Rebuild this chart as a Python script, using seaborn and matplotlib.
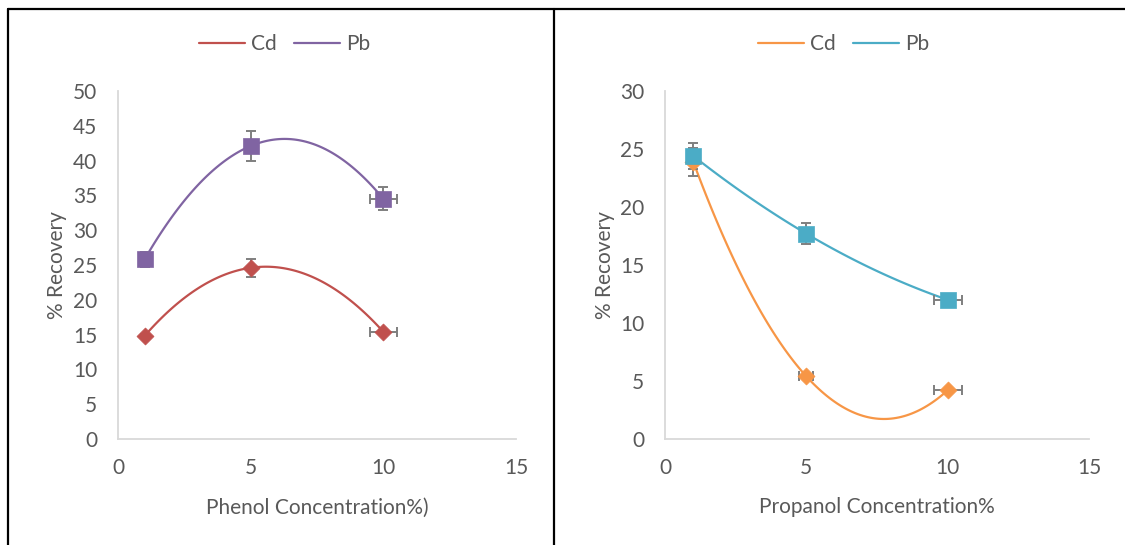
import numpy as np
import pandas as pd
import matplotlib
matplotlib.use("Agg")
import matplotlib.pyplot as plt
from matplotlib.lines import Line2D
import seaborn as sns

# ---------------- data ----------------
conc = [1, 5, 10]

# Phenol panel
cd_phenol = [14.8, 24.6, 15.4]
cd_phenol_yerr = [0.3, 1.3, 0.3]
cd_phenol_xerr = [0.0, 0.0, 0.5]
pb_phenol = [25.8, 42.1, 34.5]
pb_phenol_yerr = [1.1, 2.1, 1.65]
pb_phenol_xerr = [0.0, 0.0, 0.5]

# Propanol panel
cd_propanol = [23.9, 5.4, 4.2]
cd_propanol_yerr = [1.2, 0.0, 0.0]
cd_propanol_xerr = [0.0, 0.25, 0.5]
pb_propanol = [24.4, 17.7, 12.0]
pb_propanol_yerr = [1.1, 0.9, 0.0]
pb_propanol_xerr = [0.0, 0.0, 0.5]

series_names = ["Cd", "Pb"]
x_ticks = [0, 5, 10, 15]
y_ticks_phenol = list(range(0, 51, 5))
y_ticks_propanol = list(range(0, 31, 5))
x_label_phenol = "Phenol Concentration%)"
x_label_propanol = "Propanol Concentration%"
y_label = "% Recovery"

# ---------------- style ----------------
sns.set_theme(style="white")
plt.rcParams["font.family"] = ["Lato", "DejaVu Sans"]
TXT = "#595959"
AXC = "#D9D9D9"
ERRC = "#7F7F7F"
FS = 15

fig = plt.figure(figsize=(11.25, 5.45), dpi=100)
ax1 = fig.add_axes([118 / 1125, 1 - 439 / 545, 398 / 1125, 348 / 545])
ax2 = fig.add_axes([665 / 1125, 1 - 439 / 545, 424 / 1125, 348 / 545])


def draw_series(ax, y, yerr, xerr, color, marker, size):
    df = pd.DataFrame({"x": conc, "y": y})
    # smooth (2nd order) curve through the points
    sns.regplot(data=df, x="x", y="y", order=2, ci=None, scatter=False,
                truncate=True, ax=ax,
                line_kws=dict(color=color, lw=1.6, zorder=2))
    xa = np.array(conc, float)
    ya = np.array(y, float)
    ye = np.array(yerr, float)
    xe = np.array(xerr, float)
    m = ye > 0
    if m.any():
        ax.errorbar(xa[m], ya[m], yerr=ye[m], fmt="none", ecolor=ERRC,
                    elinewidth=1.4, capsize=3.6, capthick=1.4, zorder=3)
    m = xe > 0
    if m.any():
        ax.errorbar(xa[m], ya[m], xerr=xe[m], fmt="none", ecolor=ERRC,
                    elinewidth=1.4, capsize=3.6, capthick=1.4, zorder=3)
    sns.scatterplot(data=df, x="x", y="y", marker=marker, s=size,
                    color=color, edgecolor=color, linewidth=0.5,
                    ax=ax, zorder=4, legend=False)


def style_axes(ax, yticks, xlabel, ylab_x):
    ax.set_xlim(0, 15)
    ax.set_ylim(yticks[0], yticks[-1])
    ax.set_xticks(x_ticks)
    ax.set_yticks(yticks)
    ax.tick_params(axis="both", length=0, labelsize=FS, labelcolor=TXT)
    ax.tick_params(axis="y", pad=15)
    ax.tick_params(axis="x", pad=14)
    for s in ["top", "right"]:
        ax.spines[s].set_visible(False)
    for s in ["left", "bottom"]:
        ax.spines[s].set_color(AXC)
        ax.spines[s].set_linewidth(1.3)
    ax.set_xlabel(xlabel, fontsize=FS, color=TXT)
    ax.set_ylabel(y_label, fontsize=FS, color=TXT)
    ax.yaxis.set_label_coords(ylab_x, 0.5)
    ax.xaxis.set_label_coords(0.5, -0.168)
    ax.set_facecolor("white")


# left panel
c_cd1, c_pb1 = "#C0504D", "#8064A2"
draw_series(ax1, cd_phenol, cd_phenol_yerr, cd_phenol_xerr, c_cd1, "D", 75)
draw_series(ax1, pb_phenol, pb_phenol_yerr, pb_phenol_xerr, c_pb1, "s", 145)
style_axes(ax1, y_ticks_phenol, x_label_phenol, -0.129)

# right panel
c_cd2, c_pb2 = "#F79646", "#4BACC6"
draw_series(ax2, cd_propanol, cd_propanol_yerr, cd_propanol_xerr, c_cd2, "D", 75)
draw_series(ax2, pb_propanol, pb_propanol_yerr, pb_propanol_xerr, c_pb2, "s", 145)
style_axes(ax2, y_ticks_propanol, x_label_propanol, -0.118)

# legends
for (cc, cp, cx) in [(c_cd1, c_pb1, 0.253), (c_cd2, c_pb2, 0.750)]:
    handles = [Line2D([], [], color=cc, lw=1.6), Line2D([], [], color=cp, lw=1.6)]
    fig.legend(handles, series_names, loc="center", bbox_to_anchor=(cx, 1 - 44 / 545),
               ncol=2, frameon=False, fontsize=FS, labelcolor=TXT,
               handlelength=2.2, handletextpad=0.3, columnspacing=0.8)

# frame lines (panel borders)
lw_b = 1.6
fig.add_artist(Line2D([8 / 1125, 8 / 1125], [0, 1 - 9 / 545], color="black", lw=lw_b))
fig.add_artist(Line2D([554 / 1125, 554 / 1125], [0, 1 - 9 / 545], color="black", lw=lw_b))
fig.add_artist(Line2D([8 / 1125, 1], [1 - 9 / 545, 1 - 9 / 545], color="black", lw=lw_b))

fig.savefig("out.png", dpi=100, facecolor="white")
